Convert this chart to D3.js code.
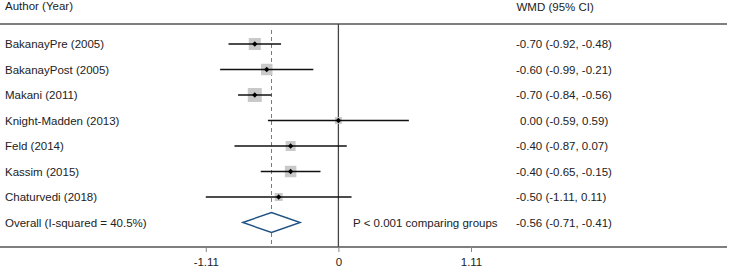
<!DOCTYPE html>
<html>
<head>
<meta charset="utf-8">
<script src="https://cdn.jsdelivr.net/npm/d3@7"></script>
<style>
  body { margin: 0; background: #fff; }
  text { font-family: "Liberation Sans", Arial, sans-serif; font-size: 11.5px; fill: #222; }
</style>
</head>
<body>
<svg id="forest"></svg>
<script>
// study data
var studies = ["BakanayPre (2005)", "BakanayPost (2005)", "Makani (2011)", "Knight-Madden (2013)",
               "Feld (2014)", "Kassim (2015)", "Chaturvedi (2018)"];
var est = [-0.70, -0.60, -0.70, 0.00, -0.40, -0.40, -0.50];
var lo = [-0.92, -0.99, -0.84, -0.59, -0.87, -0.65, -1.11];
var hi = [-0.48, -0.21, -0.56, 0.59, 0.07, -0.15, 0.11];
var weights = [17.7, 16.2, 24.0, 6.0, 12.2, 16.2, 7.8];

var overallLabel = "Overall (I-squared = 40.5%)";
var overall = [-0.56, -0.71, -0.41];   // est, lo, hi
var diamondSpan = [-0.80, -0.32];      // drawn width of the diamond
var pText = "P < 0.001 comparing groups";
var xTicks = [-1.11, 0, 1.11];
var xTickLabels = ["-1.11", "0", "1.11"];

var svgWidth = 729, svgHeight = 269;
var svg = d3.select("#forest")
    .attr("width", svgWidth)
    .attr("height", svgHeight);

var x = d3.scaleLinear().domain([-1.11, 1.11]).range([205.8, 471]);
var y = d3.scaleLinear().domain([0, 7]).range([44, 222.5]);
var side = d3.scaleSqrt().domain([0, 24]).range([0, 14]);
// plain hyphen minus like the original
var f = d3.formatLocale({decimal: ".", thousands: ",", grouping: [3], currency: ["", ""], minus: "-"}).format(".2f");

var axisY = 247;

// headers
svg.append("text").attr("x", 5).attr("y", 6).attr("dy", "0.35em").text("Author (Year)");
svg.append("text").attr("x", 516.5).attr("y", 6.5).attr("dy", "0.35em").text("WMD (95% CI)");

// top rule
svg.append("line")
    .attr("x1", 0).attr("x2", 727).attr("y1", 24).attr("y2", 24)
    .style("stroke", "#555").style("stroke-width", 1.3);

// null line
svg.append("line")
    .attr("x1", x(0)).attr("x2", x(0)).attr("y1", 24).attr("y2", axisY)
    .style("stroke", "#444").style("stroke-width", 1.3);

// overall dashed line
svg.append("line")
    .attr("x1", x(overall[0])).attr("x2", x(overall[0])).attr("y1", 30).attr("y2", axisY)
    .style("stroke", "#d4506e").style("stroke-width", 1)
    .style("stroke-dasharray", "4,3");

// study rows
var rows = svg.append("g").selectAll("g")
    .data(studies)
    .enter().append("g");

rows.append("text")
    .attr("x", 5)
    .attr("y", function (d, i) { return y(i); })
    .attr("dy", "0.35em")
    .text(function (d) { return d; });

rows.append("rect")
    .attr("x", function (d, i) { return x(est[i]) - side(weights[i]) / 2; })
    .attr("y", function (d, i) { return y(i) - side(weights[i]) / 2; })
    .attr("width", function (d, i) { return side(weights[i]); })
    .attr("height", function (d, i) { return side(weights[i]); })
    .style("fill", "#c9c9c9");

rows.append("line")
    .attr("x1", function (d, i) { return x(lo[i]); })
    .attr("x2", function (d, i) { return x(hi[i]); })
    .attr("y1", function (d, i) { return y(i); })
    .attr("y2", function (d, i) { return y(i); })
    .style("stroke", "#111").style("stroke-width", 1.5);

rows.append("path")
    .attr("d", d3.symbol().type(d3.symbolSquare).size(14))
    .attr("transform", function (d, i) { return "translate(" + x(est[i]) + "," + y(i) + ") rotate(45)"; })
    .style("fill", "#000");

rows.append("text")
    .attr("x", function (d, i) { return 516 + (est[i] >= 0 ? 4 : 0); })
    .attr("y", function (d, i) { return y(i); })
    .attr("dy", "0.35em")
    .text(function (d, i) { return f(est[i]) + " (" + f(lo[i]) + ", " + f(hi[i]) + ")"; });

// overall row
var yo = y(7);
svg.append("text").attr("x", 5).attr("y", yo).attr("dy", "0.35em").text(overallLabel);
svg.append("path")
    .attr("d", "M" + x(diamondSpan[0]) + "," + yo +
               "L" + x(overall[0]) + "," + (yo - 10) +
               "L" + x(diamondSpan[1]) + "," + yo +
               "L" + x(overall[0]) + "," + (yo + 10) + "Z")
    .style("fill", "#fff").style("stroke", "#1f5283").style("stroke-width", 1.4);
svg.append("text").attr("x", 353).attr("y", yo).attr("dy", "0.35em").text(pText);
svg.append("text").attr("x", 516).attr("y", yo).attr("dy", "0.35em")
    .text(f(overall[0]) + " (" + f(overall[1]) + ", " + f(overall[2]) + ")");

// bottom axis
svg.append("line")
    .attr("x1", 0).attr("x2", 727).attr("y1", axisY).attr("y2", axisY)
    .style("stroke", "#555").style("stroke-width", 1.3);

var axis = svg.append("g")
    .attr("transform", "translate(0," + axisY + ")")
    .call(d3.axisBottom(x).tickValues(xTicks)
        .tickFormat(function (d, i) { return xTickLabels[i]; })
        .tickSize(5).tickSizeOuter(0));
axis.select(".domain").remove();
axis.selectAll("line").style("stroke", "#888");
axis.selectAll("text")
    .attr("y", 11)
    .style("font-family", "Liberation Sans, Arial, sans-serif")
    .style("font-size", "11.5px")
    .style("fill", "#222");
</script>
</body>
</html>
